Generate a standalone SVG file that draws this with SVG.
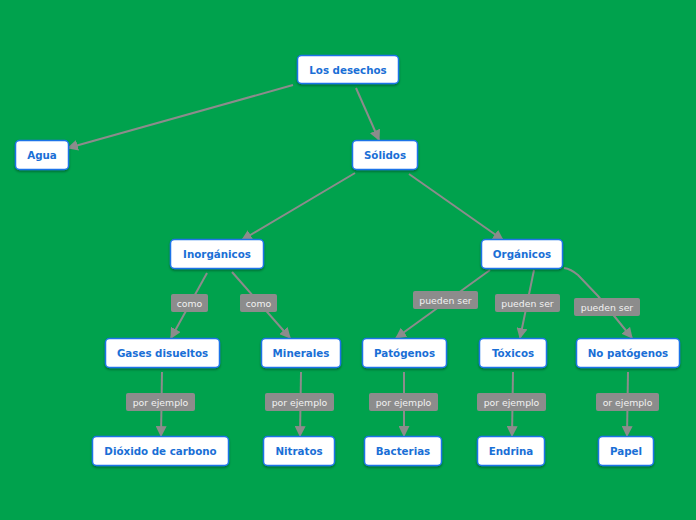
<svg xmlns="http://www.w3.org/2000/svg" width="696" height="520" viewBox="0 0 696 520">
<style>
.n rect{fill:#fff;stroke:#1a73e8;stroke-width:1.5;filter:url(#sh)}
.n text{font-family:"DejaVu Sans",Verdana,sans-serif;font-weight:bold;font-size:10.3px;fill:#1a6fd6;text-anchor:middle;dominant-baseline:central}
.c path{fill:none;stroke:#8c8c8c;stroke-width:2;marker-end:url(#ar)}
.l rect{fill:#8c8c8c}
.l text{font-family:"DejaVu Sans",Verdana,sans-serif;font-size:9.3px;fill:#f2f2f2;text-anchor:middle;dominant-baseline:central}
</style>
<defs>
<marker id="ar" viewBox="0 0 10 10" refX="9" refY="5" markerWidth="5.5" markerHeight="5.5" orient="auto" markerUnits="strokeWidth"><path d="M0,0L10,5L0,10z" fill="#8c8c8c"/></marker>
<filter id="sh" x="-10%" y="-20%" width="120%" height="150%"><feDropShadow dx="0" dy="1.5" stdDeviation="1" flood-color="#000" flood-opacity="0.35"/></filter>
</defs>
<rect width="696" height="520" fill="#00a24d"/>
<g id="connectors" class="c">
<path d="M293,85L68,148"/>
<path d="M356,88L379,140"/>
<path d="M355,173L242,240"/>
<path d="M409,174L503,240"/>
<path d="M207,273L171,338"/>
<path d="M232,272L290,338"/>
<path d="M490,270L396,338"/>
<path d="M534,270L520,338"/>
<path d="M564,268Q571,269 578,275L598,296L632,338"/>
<path d="M162,372L161,436"/>
<path d="M301,372L300,436"/>
<path d="M404,372L404,436"/>
<path d="M513,372L512,436"/>
<path d="M628,372L627,436"/>
</g>
<g id="labels" class="l">
<g><rect x="171" y="294" width="37" height="18" rx="2"/><text x="189.5" y="303">como</text></g>
<g><rect x="240" y="294" width="37" height="18" rx="2"/><text x="258.5" y="303">como</text></g>
<g><rect x="413" y="291" width="65" height="18" rx="2"/><text x="445.5" y="300">pueden ser</text></g>
<g><rect x="495" y="294" width="65" height="18" rx="2"/><text x="527.5" y="303">pueden ser</text></g>
<g><rect x="574" y="298" width="66" height="18" rx="2"/><text x="607" y="307">pueden ser</text></g>
<g><rect x="126" y="393" width="69" height="18" rx="2"/><text x="160.5" y="402">por ejemplo</text></g>
<g><rect x="265" y="393" width="69" height="18" rx="2"/><text x="299.5" y="402">por ejemplo</text></g>
<g><rect x="369" y="393" width="69" height="18" rx="2"/><text x="403.5" y="402">por ejemplo</text></g>
<g><rect x="477" y="393" width="69" height="18" rx="2"/><text x="511.5" y="402">por ejemplo</text></g>
<g><rect x="596" y="393" width="63" height="18" rx="2"/><text x="627.5" y="402">or ejemplo</text></g>
</g>
<g id="n-desechos" class="n"><rect x="297.5" y="55.5" width="101" height="28" rx="4"/><text x="348" y="69.5">Los desechos</text></g>
<g id="n-agua" class="n"><rect x="15.5" y="140.5" width="53" height="29" rx="4"/><text x="42" y="155">Agua</text></g>
<g id="n-solidos" class="n"><rect x="352.5" y="140.5" width="65" height="29" rx="4"/><text x="385" y="155">Sólidos</text></g>
<g id="n-inorganicos" class="n"><rect x="170.5" y="239.5" width="93" height="29" rx="4"/><text x="217" y="254">Inorgánicos</text></g>
<g id="n-organicos" class="n"><rect x="481.5" y="239.5" width="81" height="29" rx="4"/><text x="522" y="254">Orgánicos</text></g>
<g id="n-gases" class="n"><rect x="105.5" y="338.5" width="114" height="29" rx="4"/><text x="162.5" y="353">Gases disueltos</text></g>
<g id="n-minerales" class="n"><rect x="261.5" y="338.5" width="79" height="29" rx="4"/><text x="301" y="353">Minerales</text></g>
<g id="n-patogenos" class="n"><rect x="362.5" y="338.5" width="84" height="29" rx="4"/><text x="404.5" y="353">Patógenos</text></g>
<g id="n-toxicos" class="n"><rect x="479.5" y="338.5" width="67" height="29" rx="4"/><text x="513" y="353">Tóxicos</text></g>
<g id="n-nopatogenos" class="n"><rect x="576.5" y="338.5" width="103" height="29" rx="4"/><text x="628" y="353">No patógenos</text></g>
<g id="n-dioxido" class="n"><rect x="92.5" y="436.5" width="136" height="29" rx="4"/><text x="160.5" y="451">Dióxido de carbono</text></g>
<g id="n-nitratos" class="n"><rect x="263.5" y="436.5" width="71" height="29" rx="4"/><text x="299" y="451">Nitratos</text></g>
<g id="n-bacterias" class="n"><rect x="364.5" y="436.5" width="77" height="29" rx="4"/><text x="403" y="451">Bacterias</text></g>
<g id="n-endrina" class="n"><rect x="477.5" y="436.5" width="67" height="29" rx="4"/><text x="511" y="451">Endrina</text></g>
<g id="n-papel" class="n"><rect x="598.5" y="436.5" width="55" height="29" rx="4"/><text x="626" y="451">Papel</text></g>
</svg>
